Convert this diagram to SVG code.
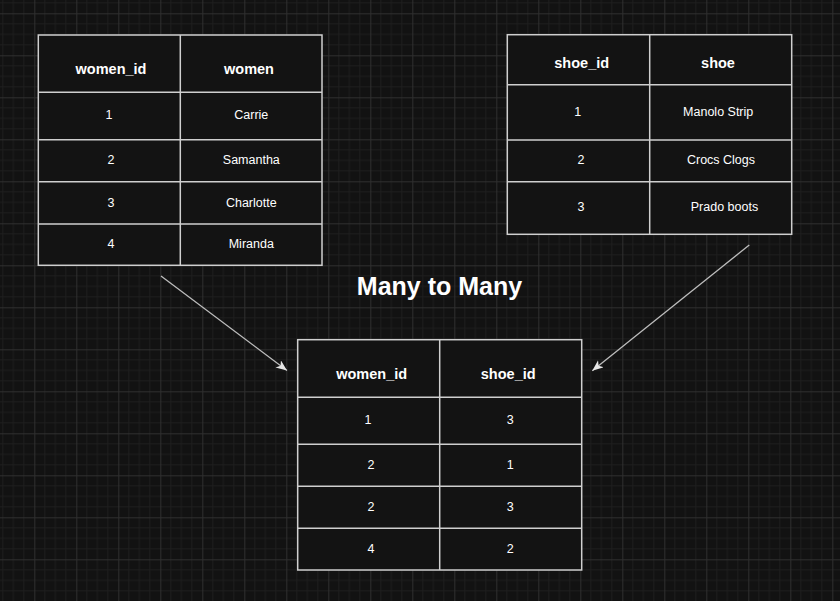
<svg xmlns="http://www.w3.org/2000/svg" width="840" height="601" viewBox="0 0 840 601">
  <defs>
    <pattern id="grid" patternUnits="userSpaceOnUse" x="34.3" y="13.3" width="42" height="42">
      <rect width="42" height="42" fill="#121212"/>
      <path d="M10.5 0V42M21 0V42M31.5 0V42M0 10.5H42M0 21H42M0 31.5H42" stroke="#1e1e1e" stroke-width="1" fill="none"/>
      <path d="M0.5 0V42M0 0.5H42" stroke="#2f2f2f" stroke-width="1" fill="none"/>
    </pattern>
    <marker id="arrow" markerUnits="userSpaceOnUse" markerWidth="12" markerHeight="10" refX="11" refY="4.5" orient="auto">
      <path d="M0,0 L11,4.5 L0,9 L3,4.5 Z" fill="#e6e6e6"/>
    </marker>
    <style>
      .tbl { fill: #131313; stroke: #cfcfcf; stroke-width: 1.5; }
      .ln { stroke: #cfcfcf; stroke-width: 1.5; fill: none; }
      .hd { font-family: "Liberation Sans", Arial, sans-serif; font-weight: bold; font-size: 14.5px; fill: #ffffff; text-anchor: middle; }
      .tx { font-family: "Liberation Sans", Arial, sans-serif; font-size: 12.5px; fill: #ffffff; text-anchor: middle; }
      .title { font-family: "Liberation Sans", Arial, sans-serif; font-weight: bold; font-size: 25px; fill: #ffffff; text-anchor: middle; }
      .conn { stroke: #bdbdbd; stroke-width: 1.3; fill: none; marker-end: url(#arrow); }
    </style>
  </defs>
  <rect width="840" height="601" fill="url(#grid)"/>

  <g id="women">
    <rect class="tbl" x="38.3" y="35" width="283.7" height="230.3"/>
    <path class="ln" d="M180.3 35V265.3M38.3 92.3H322M38.3 139.7H322M38.3 181.7H322M38.3 224H322"/>
    <text class="hd" x="111" y="74.3">women_id</text>
    <text class="hd" x="249" y="74.3">women</text>
    <text class="tx" x="109" y="119.3">1</text>
    <text class="tx" x="251.3" y="119.3">Carrie</text>
    <text class="tx" x="111" y="164.3">2</text>
    <text class="tx" x="251.3" y="164.3">Samantha</text>
    <text class="tx" x="111" y="206.7">3</text>
    <text class="tx" x="251.3" y="206.7">Charlotte</text>
    <text class="tx" x="111" y="248.3">4</text>
    <text class="tx" x="251.3" y="248.3">Miranda</text>
  </g>

  <g id="shoe">
    <rect class="tbl" x="507.3" y="34.7" width="284.4" height="199.6"/>
    <path class="ln" d="M649.7 34.7V234.3M507.3 84.7H791.7M507.3 140H791.7M507.3 181.7H791.7"/>
    <text class="hd" x="581.7" y="67.7">shoe_id</text>
    <text class="hd" x="718" y="67.7">shoe</text>
    <text class="tx" x="577.7" y="115.7">1</text>
    <text class="tx" x="718.2" y="115.7">Manolo Strip</text>
    <text class="tx" x="581" y="164.3">2</text>
    <text class="tx" x="721" y="164.3">Crocs Clogs</text>
    <text class="tx" x="581" y="210.7">3</text>
    <text class="tx" x="724.5" y="210.7">Prado boots</text>
  </g>

  <text id="title" class="title" x="439.5" y="295">Many to Many</text>

  <g id="women_shoe">
    <rect class="tbl" x="297.7" y="339.7" width="284" height="230.3"/>
    <path class="ln" d="M439.7 339.7V570M297.7 397.3H581.7M297.7 444.3H581.7M297.7 486.3H581.7M297.7 528.3H581.7"/>
    <text class="hd" x="371.7" y="378.7">women_id</text>
    <text class="hd" x="508.2" y="378.7">shoe_id</text>
    <text class="tx" x="368" y="424">1</text>
    <text class="tx" x="510.3" y="424">3</text>
    <text class="tx" x="371" y="469">2</text>
    <text class="tx" x="510.3" y="469">1</text>
    <text class="tx" x="371" y="511">2</text>
    <text class="tx" x="510.3" y="511">3</text>
    <text class="tx" x="371" y="552.7">4</text>
    <text class="tx" x="510.3" y="552.7">2</text>
  </g>

  <g id="connectors">
    <path class="conn" d="M161 276L287 370.5"/>
    <path class="conn" d="M749.3 245L592.3 370.7"/>
  </g>
</svg>
